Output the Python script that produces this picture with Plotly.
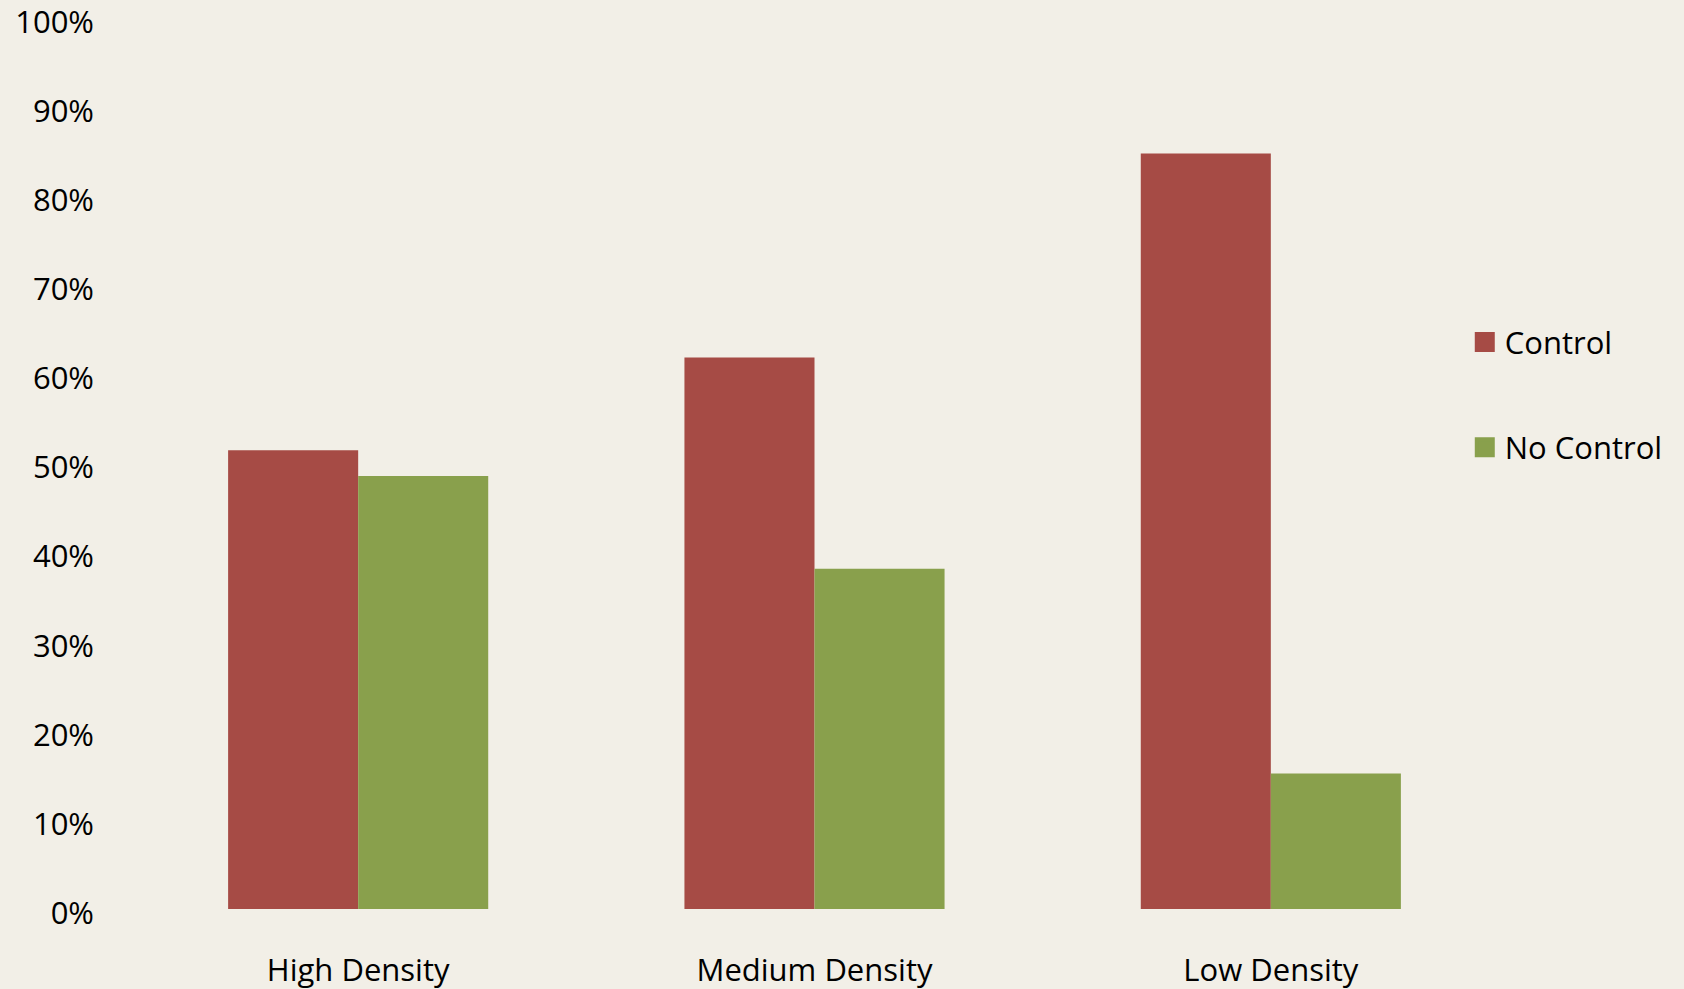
import plotly.graph_objects as go

categories = ["High Density", "Medium Density", "Low Density"]
control = [0.515, 0.619, 0.848]
no_control = [0.486, 0.382, 0.152]
y_ticks = [0, 0.1, 0.2, 0.3, 0.4, 0.5, 0.6, 0.7, 0.8, 0.9, 1.0]
y_tick_text = ["0%", "10%", "20%", "30%", "40%", "50%", "60%", "70%", "80%", "90%", "100%"]

RED = "#A64B45"
GREEN = "#89A04C"
BG = "#F2EFE7"
FONT = "Open Sans"

fig = go.Figure()
fig.add_trace(go.Bar(x=categories, y=control, name="Control",
                     marker=dict(color=RED, line=dict(width=0)), showlegend=False))
fig.add_trace(go.Bar(x=categories, y=no_control, name="No Control",
                     marker=dict(color=GREEN, line=dict(width=0)), showlegend=False))

# legend entries drawn as large square markers
for name, col, grp in [("Control", RED, "a"), ("No Control", GREEN, "b")]:
    fig.add_trace(go.Scatter(x=[None], y=[None], mode="markers", name=name,
                             legendgroup=grp,
                             marker=dict(symbol="square", size=16, color=col,
                                         line=dict(width=4, color=col))))

fig.update_layout(
    width=1684, height=989,
    paper_bgcolor=BG, plot_bgcolor=BG,
    margin=dict(l=130, r=185, t=18, b=80, autoexpand=False),
    barmode="group", bargap=0.43, bargroupgap=0,
    font=dict(family=FONT, size=31, color="#000000"),
    legend=dict(x=0.975, xanchor="left", y=0.577, yanchor="middle",
                xref="paper", yref="paper",
                bgcolor="rgba(0,0,0,0)", tracegroupgap=62,
                font=dict(family=FONT, size=31), itemwidth=30),
    xaxis=dict(showgrid=False, showline=False, zeroline=False,
               ticks="", ticklabelstandoff=40, automargin=False,
               tickfont=dict(family=FONT, size=31)),
    yaxis=dict(range=[0, 1], tickvals=y_ticks, ticktext=y_tick_text,
               showgrid=False, showline=False, zeroline=False,
               ticks="", ticklabelstandoff=35, automargin=False,
               ticklabeloverflow="allow", ticklabelshift=4,
               tickfont=dict(family=FONT, size=31)),
)

fig.write_html("out.html")
